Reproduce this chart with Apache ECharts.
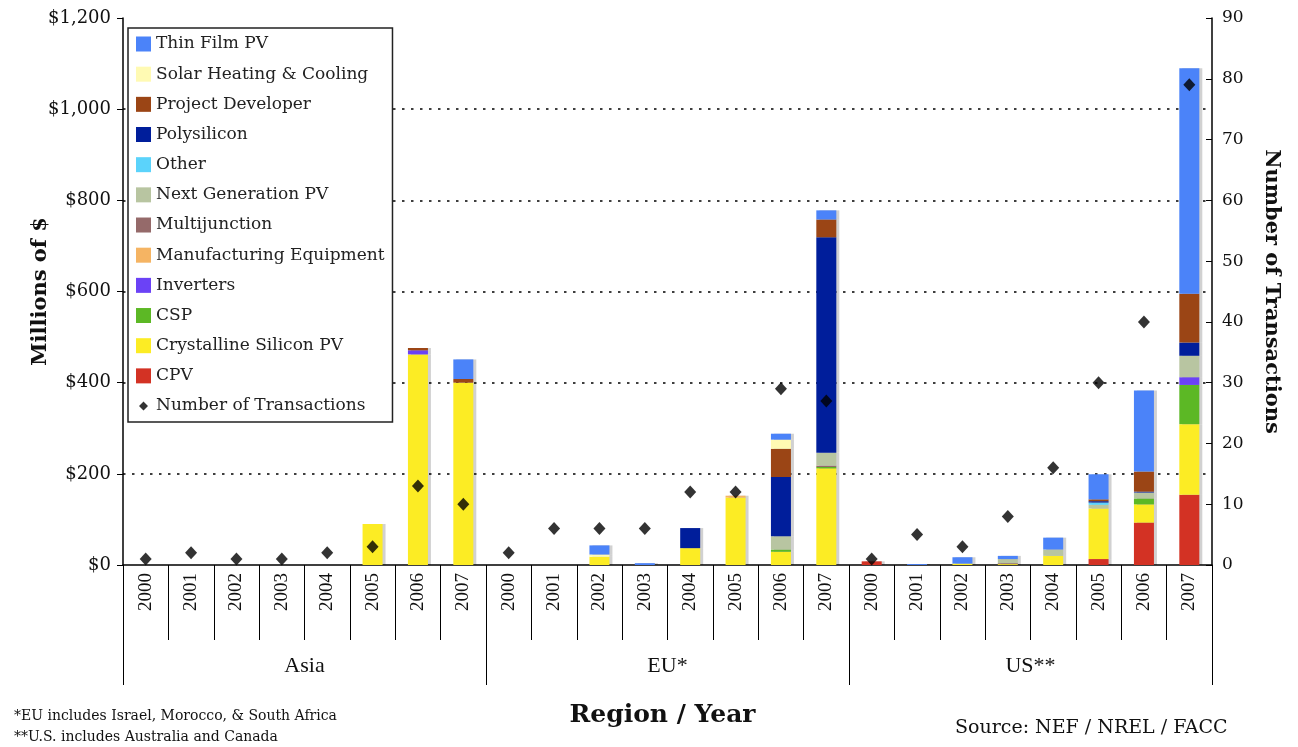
<!DOCTYPE html>
<html>
<head>
<meta charset="utf-8">
<script src="https://cdn.jsdelivr.net/npm/echarts@6/dist/echarts.min.js"></script>
<style>
  html, body { margin: 0; padding: 0; background: #fff; }
  #chart { width: 1298px; height: 747px; }
</style>
</head>
<body>
<div id="chart"></div>
<script>
// categories: 8 years for each region
const years = ['2000', '2001', '2002', '2003', '2004', '2005', '2006', '2007'];
const regions = ['Asia', 'EU*', 'US**'];
const categories = [].concat(years, years, years);

// Millions of $ per segment: Asia 2000-07, EU 2000-07, US 2000-07
const cpv          = [0,0,0,0,0,0,0,0,     0,0,0,0,0,0,0,0,        8,0,0,0,0,13,93,154];
const crystalline  = [0,0,0,0,0,90,462,400, 0,0,18,0,37,148,29,212, 0,0,3,2,20,111,40,155];
const csp          = [0,0,0,0,0,0,0,0,     0,0,0,0,0,0,5,3,        0,0,0,0,0,0,13,86];
const inverters    = [0,0,0,0,0,0,9,0,     0,0,0,0,0,0,0,0,        0,0,0,0,0,0,0,17];
const mfgEquipment = [0,0,0,0,0,0,0,0,     0,0,0,0,0,4,0,0,        0,0,0,0,0,0,0,0];
const multijunction= [0,0,0,0,0,0,0,0,     0,0,0,0,0,0,0,3,        0,0,0,2,0,0,0,0];
const nextGen      = [0,0,0,0,0,0,0,0,     0,0,0,0,0,0,29,28,      0,0,0,9,14,8,13,47];
const other        = [0,0,0,0,0,0,0,0,     0,0,0,0,0,0,0,0,        0,0,0,0,0,5,0,0];
const polysilicon  = [0,0,0,0,0,0,0,0,     0,0,0,0,44,0,130,473,   0,0,0,0,0,3,2,29];
const projectDev   = [0,0,0,0,0,0,5,8,     0,0,0,0,0,0,62,39,      0,0,0,0,0,4,44,107];
const solarHeating = [0,0,0,0,0,0,0,0,     0,0,5,0,0,0,20,0,       0,0,0,0,0,0,0,0];
const thinFilm     = [0,0,0,0,0,0,0,43,    0,0,20,4,0,0,13,20,     0,2,14,7,26,55,178,495];

// number of transactions (right axis)
const transactions = [1,2,1,1,2,3,13,10, 2,6,6,6,12,12,29,27, 1,5,3,8,16,30,40,79];

const leftTicks = [0, 200, 400, 600, 800, 1000, 1200];

const stackSeries = [
  ['CPV', cpv, '#d33224'],
  ['Crystalline Silicon PV', crystalline, '#fcec24'],
  ['CSP', csp, '#5cb825'],
  ['Inverters', inverters, '#6b42f6'],
  ['Manufacturing Equipment', mfgEquipment, '#f5b463'],
  ['Multijunction', multijunction, '#956a6a'],
  ['Next Generation PV', nextGen, '#b8c5a1'],
  ['Other', other, '#5bd3fb'],
  ['Polysilicon', polysilicon, '#001e9b'],
  ['Project Developer', projectDev, '#9b4515'],
  ['Solar Heating & Cooling', solarHeating, '#fffab3'],
  ['Thin Film PV', thinFilm, '#4b83f9']
];

const serif = '"DejaVu Serif", serif';
const timesLike = '"Liberation Serif", serif';
const chart = echarts.init(document.getElementById('chart'));

const series = stackSeries.map(function (s) {
  return {
    name: s[0],
    type: 'bar',
    stack: 'total',
    barWidth: 20,
    data: s[1],
    itemStyle: {
      color: s[2],
      shadowColor: 'rgba(0,0,0,0.18)',
      shadowOffsetX: 3,
      shadowBlur: 0
    }
  };
});
series.push({
  name: 'Number of Transactions',
  type: 'scatter',
  yAxisIndex: 1,
  symbol: 'diamond',
  symbolSize: [12, 13],
  itemStyle: { color: '#000' },
  z: 5,
  data: transactions
});

const legendNames = stackSeries.map(function (s) { return s[0]; }).reverse();

const gridColors = leftTicks.map(function (v) {
  return (v === 0 || v === 1200) ? 'rgba(0,0,0,0)' : '#000';
});

// small diamond inside a 15x15 box (corner dots keep the box size)
const smallDiamond = 'path://M0,0L0.01,0L0,0.01ZM15,15L14.99,15L15,14.99ZM7.5,3L12,7.5L7.5,12L3,7.5Z';

const option = {
  animation: false,
  backgroundColor: '#fff',
  textStyle: { fontFamily: serif },
  grid: { left: 123, right: 86, top: 18, bottom: 182 },
  legend: {
    orient: 'vertical',
    left: 128,
    top: 28,
    padding: [6, 8, 6, 8],
    itemGap: 10.17,
    itemWidth: 15,
    itemHeight: 15,
    borderColor: '#222',
    borderWidth: 1.5,
    backgroundColor: '#fff',
    textStyle: { fontFamily: serif, fontSize: 17, lineHeight: 20, color: '#222' },
    data: legendNames.map(function (n) { return { name: n, icon: 'rect' }; })
      .concat([{ name: 'Number of Transactions', icon: smallDiamond, itemStyle: { color: '#000' } }])
  },
  xAxis: [
    {
      type: 'category',
      data: categories,
      position: 'bottom',
      axisLine: { show: true, lineStyle: { color: '#000', width: 1.5 } },
      axisTick: { show: true, interval: 0, length: 75, lineStyle: { color: '#000', width: 1 } },
      axisLabel: { interval: 0, rotate: 90, margin: 8, fontFamily: timesLike, fontSize: 19, color: '#111' }
    },
    {
      type: 'category',
      data: regions,
      position: 'bottom',
      axisLine: { show: false },
      axisTick: { show: true, interval: 0, length: 120, lineStyle: { color: '#000', width: 1 } },
      axisLabel: { interval: 0, margin: 90, fontFamily: timesLike, fontSize: 22, color: '#111' },
      name: 'Region / Year',
      nameLocation: 'middle',
      nameGap: 138,
      nameMoveOverlap: false,
      nameTextStyle: { fontFamily: serif, fontSize: 25, fontWeight: 'bold', color: '#111', padding: [0, 0, 0, -10] }
    }
  ],
  yAxis: [
    {
      type: 'value',
      min: 0,
      max: 1200,
      interval: 200,
      name: 'Millions of $',
      nameLocation: 'middle',
      nameRotate: 90,
      nameGap: 72,
      nameMoveOverlap: false,
      nameTextStyle: { fontFamily: serif, fontSize: 21, fontWeight: 'bold', color: '#111' },
      axisLine: { show: true, lineStyle: { color: '#000', width: 1.5 } },
      axisTick: { show: true, length: 6, lineStyle: { color: '#000' } },
      axisLabel: {
        fontFamily: serif, fontSize: 18, color: '#111', margin: 12,
        formatter: function (v) { return '$' + v.toString().replace(/\B(?=(\d{3})+(?!\d))/g, ','); }
      },
      splitLine: { show: true, lineStyle: { color: gridColors, width: 1.5, type: [2.5, 6.5] } }
    },
    {
      type: 'value',
      min: 0,
      max: 90,
      interval: 10,
      position: 'right',
      name: 'Number of Transactions',
      nameLocation: 'middle',
      nameRotate: -90,
      nameGap: 49,
      nameTextStyle: { fontFamily: serif, fontSize: 21, fontWeight: 'bold', color: '#111' },
      axisLine: { show: true, lineStyle: { color: '#000', width: 1.5 } },
      axisTick: { show: true, inside: true, length: 6, lineStyle: { color: '#000' } },
      axisLabel: { fontFamily: serif, fontSize: 17, color: '#111', margin: 10 },
      splitLine: { show: false }
    }
  ],
  graphic: [
    { type: 'text', left: 14, top: 709, style: { text: '*EU includes Israel, Morocco, & South Africa', font: '14px ' + serif, fill: '#111' } },
    { type: 'text', left: 14, top: 730, style: { text: '**U.S. includes Australia and Canada', font: '14px ' + serif, fill: '#111' } },
    { type: 'text', left: 955, top: 719, style: { text: 'Source: NEF / NREL / FACC', font: '19px ' + serif, fill: '#111' } }
  ],
  series: series
};

chart.setOption(option);
</script>
</body>
</html>
